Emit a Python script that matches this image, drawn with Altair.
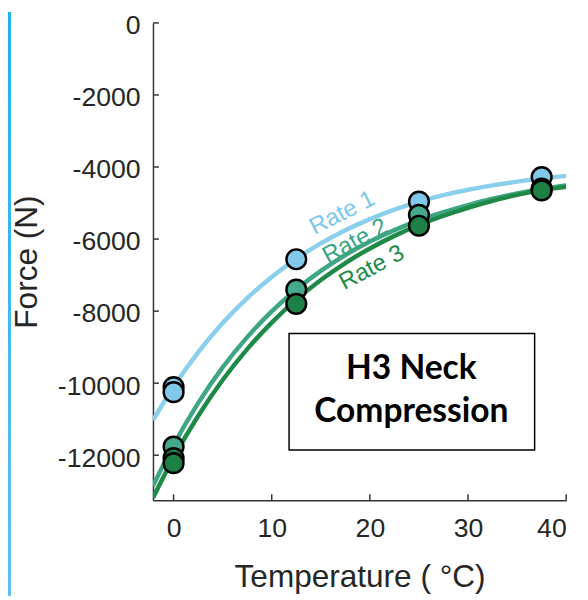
import altair as alt
import pandas as pd

# ---- data ----
rates = ["Rate 1", "Rate 2", "Rate 3"]

curve_temps = [-2.1, 0, 2.5, 5, 7.5, 10, 12.5, 15, 17.5, 20, 22.5, 25, 27.5, 30, 32.5, 35, 37.5, 40]
rate1_curve = [-11030, -10100, -9145, -8332, -7640, -7050, -6548, -6121, -5756, -5447, -5182, -4958, -4780, -4630, -4510, -4405, -4315, -4245]
rate2_curve = [-12853, -11717, -10552, -9563, -8722, -8006, -7398, -6882, -6442, -6069, -5752, -5482, -5253, -5058, -4880, -4735, -4610, -4510]
rate3_curve = [-13183, -12067, -10910, -9913, -9055, -8318, -7682, -7136, -6665, -6260, -5911, -5611, -5353, -5131, -4939, -4775, -4640, -4550]

rate1_pt_temps = [0, 0, 12.5, 25, 37.5]
rate1_pt_force = [-10110, -10250, -6560, -4960, -4280]
rate2_pt_temps = [0, 12.5, 25, 37.5]
rate2_pt_force = [-11760, -7400, -5330, -4600]
rate3_pt_temps = [0, 0, 12.5, 25, 37.5]
rate3_pt_force = [-12080, -12220, -7800, -5630, -4650]

label_temps = [17.2, 18.5, 20.2]
label_force = [-5280, -6060, -6800]
label_angles = [333, 332, 332]

x_ticks = [0, 10, 20, 30, 40]
y_ticks = [0, -2000, -4000, -6000, -8000, -10000, -12000]

box_lines = ["H3 Neck", "Compression"]

line_colors = ["#8acfec", "#3ea682", "#1f8a48"]
fill_colors = ["#82c8ea", "#45a98c", "#1d8045"]
text_colors = ["#7cc7ea", "#3aa585", "#1e8a4a"]

# ---- tables ----
curve_df = pd.concat([
    pd.DataFrame({"temp": curve_temps, "force": vals, "rate": r})
    for r, vals in zip(rates, [rate1_curve, rate2_curve, rate3_curve])
])
pts_df = pd.concat([
    pd.DataFrame({"temp": t, "force": f, "rate": r})
    for r, t, f in zip(rates,
                       [rate1_pt_temps, rate2_pt_temps, rate3_pt_temps],
                       [rate1_pt_force, rate2_pt_force, rate3_pt_force])
])
lab_df = pd.DataFrame({"temp": label_temps, "force": label_force,
                       "rate": rates, "angle": label_angles})
xt_df = pd.DataFrame({"t": x_ticks})
yt_df = pd.DataFrame({"v": y_ticks})

W, H = 419, 484
xs = alt.Scale(domain=[-2.1, 40], nice=False, zero=False)
ys = alt.Scale(domain=[-13250, 0], nice=False, zero=False)

xaxis = alt.Axis(values=x_ticks, ticks=False, grid=False, labelPadding=16,
                 title="Temperature ( \u00b0C)", titleY=87, titleBaseline="alphabetic")
yaxis = alt.Axis(values=y_ticks, ticks=False, grid=False, labelPadding=13, labelOffset=3,
                 labelExpr="'' + datum.value",
                 title="Force (N)", titleX=-128, titleBaseline="middle")

one = alt.Data(values=[{}])

stripe = alt.Chart(one).mark_rect(
    clip=False,
    color=alt.Gradient(gradient="linear", x1=0, y1=0, x2=0, y2=1,
                       stops=[alt.GradientStop(color="#1ab2ef", offset=0),
                              alt.GradientStop(color="#5ec0ee", offset=1)])
).encode(x=alt.value(-147), x2=alt.value(-144), y=alt.value(-11), y2=alt.value(581))

lines = alt.Chart(curve_df).mark_line(strokeWidth=4.5, interpolate="monotone", clip=True).encode(
    x=alt.X("temp:Q", scale=xs, axis=xaxis),
    y=alt.Y("force:Q", scale=ys, axis=yaxis),
    stroke=alt.Stroke("rate:N", scale=alt.Scale(domain=rates, range=line_colors), legend=None),
)

points = alt.Chart(pts_df).mark_circle(size=400, stroke="black", strokeWidth=2.5, opacity=1).encode(
    x=alt.X("temp:Q", scale=xs),
    y=alt.Y("force:Q", scale=ys),
    fill=alt.Fill("rate:N", scale=alt.Scale(domain=rates, range=fill_colors), legend=None),
)

labels = alt.Chart(lab_df).mark_text(font="Liberation Sans", fontSize=24,
                                      align="center", baseline="middle").encode(
    x=alt.X("temp:Q", scale=xs),
    y=alt.Y("force:Q", scale=ys),
    text="rate:N",
    angle=alt.Angle("angle:Q", scale=None),
    color=alt.Color("rate:N", scale=alt.Scale(domain=rates, range=text_colors), legend=None),
)

yticks = alt.Chart(yt_df).mark_rule(color="#333333", strokeWidth=1.5).encode(
    y=alt.Y("v:Q", scale=ys), x=alt.value(0), x2=alt.value(6))
xticks = alt.Chart(xt_df).mark_rule(color="#333333", strokeWidth=1.5).encode(
    x=alt.X("t:Q", scale=xs), y=alt.value(H), y2=alt.value(H - 6))

box = alt.Chart(one).mark_rect(fill="white", stroke="black", strokeWidth=1.5).encode(
    x=alt.value(138), x2=alt.value(387), y=alt.value(315), y2=alt.value(433))
box_t1 = alt.Chart(one).mark_text(text=box_lines[0], font="Lato", fontWeight="bold", fontSize=34,
                                  align="center", baseline="alphabetic", color="black").encode(
    x=alt.value(262), y=alt.value(361))
box_t2 = alt.Chart(one).mark_text(text=box_lines[1], font="Lato", fontWeight="bold", fontSize=34,
                                  align="center", baseline="alphabetic", color="black").encode(
    x=alt.value(262), y=alt.value(405))

chart = alt.layer(stripe, lines, points, labels, yticks, xticks, box, box_t1, box_t2).properties(
    width=W, height=H,
    autosize=alt.AutoSizeParams(type="none"),
    padding={"left": 147, "top": 11, "right": 14, "bottom": 97},
    background="white",
).configure_view(stroke=None).configure_axis(
    domainColor="#333333", domainWidth=1.5,
    labelFont="Liberation Sans", labelFontSize=27, labelColor="#262626",
    titleFont="Liberation Sans", titleFontSize=32, titleFontWeight="normal", titleColor="#262626",
)

chart.save("out.html", embed_options={"renderer": "svg", "actions": False})
